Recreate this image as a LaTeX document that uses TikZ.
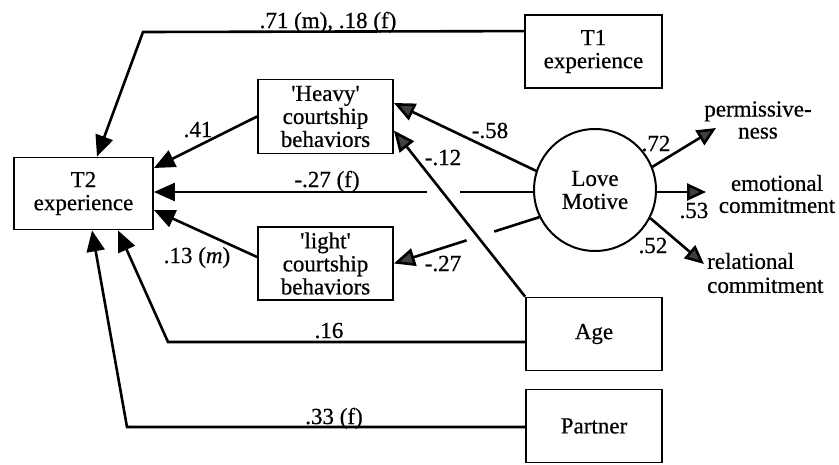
\documentclass[tikz,border=0pt]{standalone}
\usepackage{fontspec}
\setmainfont{Liberation Serif}[Ligatures=TeXOff, FakeBold=0.6]
\usetikzlibrary{arrows.meta,calc}
\begin{document}
\begin{tikzpicture}[x=1pt,y=-1pt,
  font=\fontsize{23}{23}\selectfont,
  box/.style={draw, line width=1.8pt, align=center, inner sep=0pt},
  ln/.style={line width=2.6pt},
  arr/.style={line width=2.6pt, -{Triangle[length=21pt,width=18pt]}},
  garr/.style={line width=2.6pt, -{Triangle[length=21pt,width=18pt,fill=black!75]}},
  oarr/.style={line width=2.6pt, -{Triangle[length=19pt,width=17pt,fill=black!75]}},
  lab/.style={inner sep=0pt, anchor=base},
  outc/.style={inner sep=0pt, align=center, font=\fontsize{23}{22}\selectfont}
]
\useasboundingbox (0,0) rectangle (839,464);
% boxes
\node[box, minimum width=139pt, minimum height=72pt] (T2) at (83.5,193.5) {T2\\experience};
\node[box, minimum width=135pt, minimum height=74pt] (heavy) at (325.5,116.5) {'Heavy'\\courtship\\behaviors};
\node[box, minimum width=135pt, minimum height=73pt] (light) at (325.5,263.5) {'light'\\courtship\\behaviors};
\node[box, minimum width=137pt, minimum height=73pt] (T1) at (593.5,51.5) {T1\\experience};
\node[box, minimum width=136pt, minimum height=73pt] (age) at (594,334) {Age};
\node[box, minimum width=136pt, minimum height=73pt] (partner) at (594,426) {Partner};
\node[draw, circle, line width=2pt, minimum size=122pt, inner sep=0pt, align=center] (love) at (595,190) {Love\\Motive};
% outcome texts
\node[outc] (perm) at (758,120) {permissive-\\ness};
\node[outc] (emo) at (777,194) {emotional\\commitment};
\node[outc, align=left, anchor=west, font=\fontsize{23}{24}\selectfont] (rel) at (707,273) {relational\\commitment};
% bend points
\coordinate (k1) at (143,32);
\coordinate (k2) at (168,342);
\coordinate (k3) at (127,427);
% T1 -> T2
\draw[arr] ([yshift=-17pt]T1.north west) -- (k1) -- ([xshift=13.5pt]T2.north);
\node[lab] (l71) at (328,28) {.71 (m), .18 (f)};
% heavy -> T2
\draw[arr] (heavy.west) -- ([yshift=25.5pt]T2.east);
\node[lab] (l41) at (198,137) {.41};
% love -> T2 (with gap)
\coordinate (g1a) at (460,192);
\coordinate (g1b) at (427,192);
\draw[ln] (love.west |- g1a) -- (g1a);
\draw[arr] (g1b) -- (T2.east |- g1b);
\node[lab] (l27f) at (327,187) {-.27 (f)};
% light -> T2
\draw[arr] ([yshift=6.5pt]light.west) -- ([yshift=-16.5pt]T2.east);
\node[lab] (l13) at (197,263) {.13 (\textit{m})};
% age -> T2
\draw[arr] (age.west |- k2) -- (k2) -- ([xshift=34.5pt]T2.south);
\node[lab] (l16) at (329,338) {.16};
% partner -> T2
\draw[arr] (partner.west |- k3) -- (k3) -- ([xshift=8.5pt]T2.south);
\node[lab] (l33) at (334,424) {.33 (f)};
% love -> heavy
\draw[garr] (love.162) -- ([yshift=13.5pt]heavy.east);
\node[lab] (l58) at (490,138) {-.58};
% age -> heavy
\draw[garr] (age.north west) -- ([yshift=-14pt]heavy.east);
\node[lab] (l12) at (443,165) {-.12};
% love -> light (with gap)
\coordinate (ls) at (love.206);
\coordinate (g2a) at ($(ls)!0.31!(light.east)$);
\coordinate (g2b) at ($(ls)!0.5!(light.east)$);
\draw[ln] (ls) -- (g2a);
\draw[garr] (g2b) -- (light.east);
\node[lab] (l27) at (443,271) {-.27};
% outcomes
\coordinate (pe) at (716,128);
\coordinate (ee) at (706,192);
\coordinate (re) at (704,264);
\draw[oarr] (love.22) -- (pe);
\draw[oarr] (love.east |- ee) -- (ee);
\draw[oarr] (love.-27) -- (re);
\node[lab] (l72) at (656,151) {.72};
\node[lab] (l53) at (694,218) {.53};
\node[lab] (l52) at (653,253) {.52};
\end{tikzpicture}
\end{document}
